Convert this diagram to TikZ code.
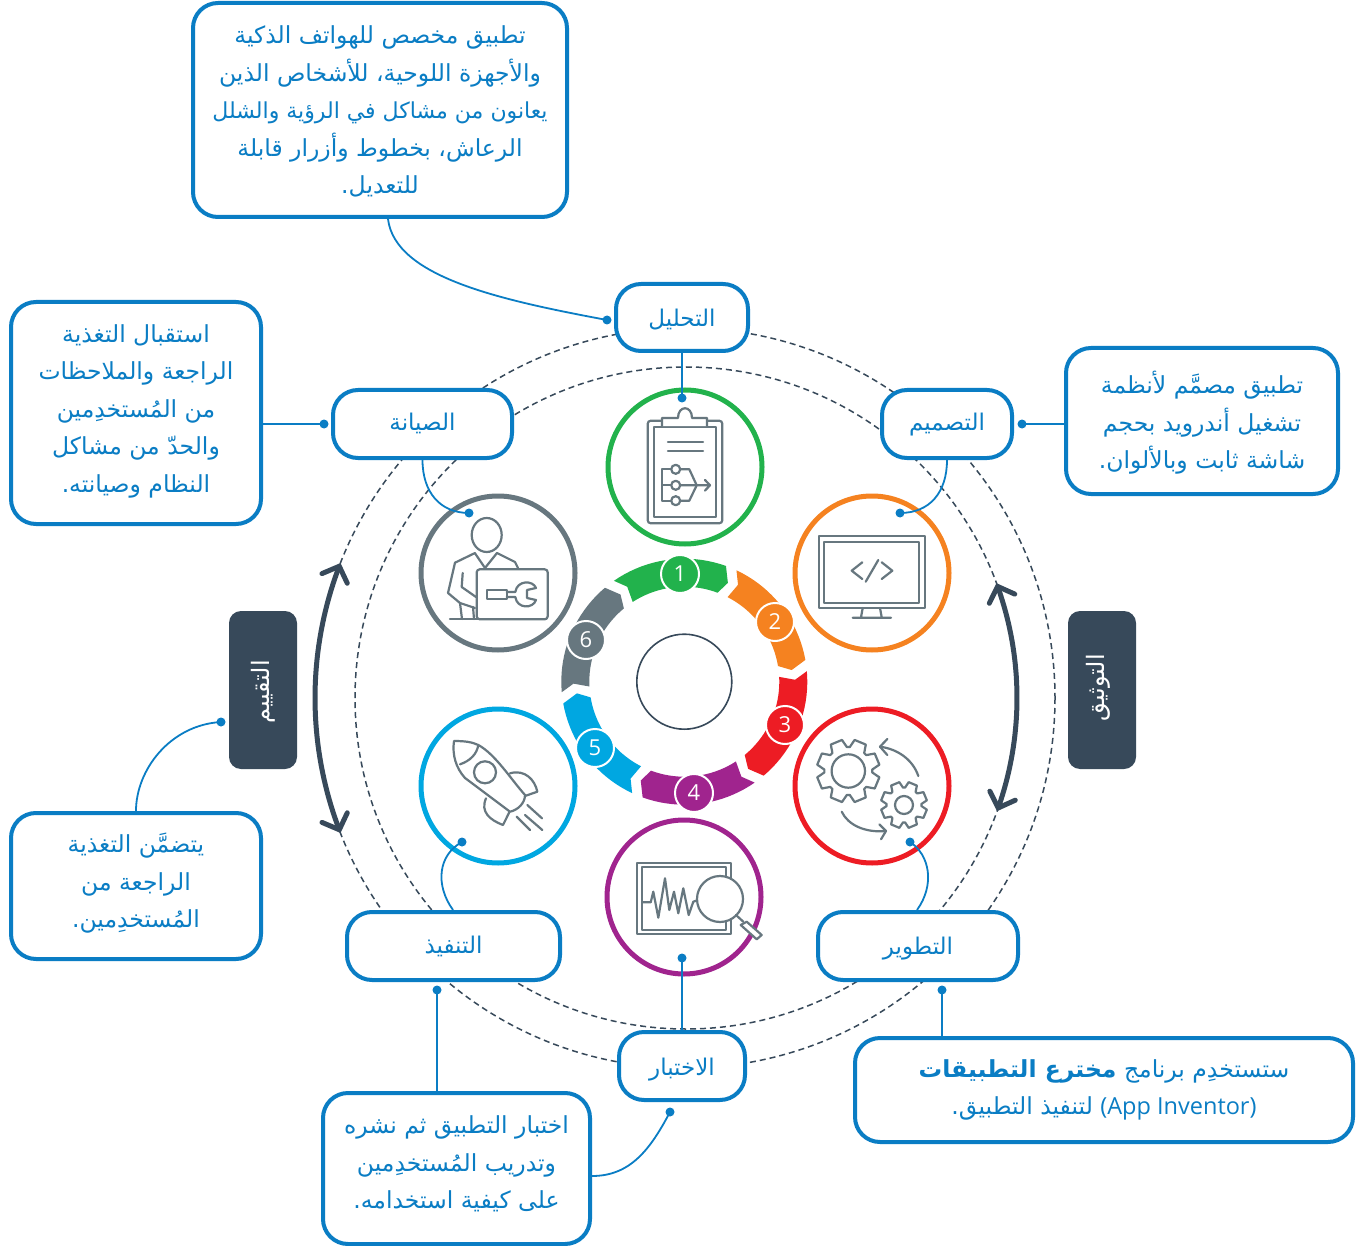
\documentclass[tikz,border=0pt]{standalone}
\usepackage{fontspec}
\usetikzlibrary{arrows.meta,calc}
\TeXXeTstate=1
\newfontfamily\arfont[Script=Arabic]{DejaVu Sans}
\newfontfamily\latfont{Open Sans}
\setmainfont{Open Sans}
\def\arraise{0pt}
\newcommand{\ar}[1]{\raisebox{\arraise}[0pt][0pt]{\beginR #1\endR}}
\newcommand{\arp}[1]{\beginR #1\endR}
\definecolor{cblue}{HTML}{0A7DC4}
\definecolor{cdark}{HTML}{37495A}
\definecolor{cgreen}{HTML}{22B24C}
\definecolor{corange}{HTML}{F58220}
\definecolor{cred}{HTML}{ED1C24}
\definecolor{cpurple}{HTML}{A0248E}
\definecolor{ccyan}{HTML}{00A7E1}
\definecolor{cgray}{HTML}{67777F}
\tikzset{
  lift/.style={execute at begin node={\def\arraise{#1pt}}},
  bluebox/.style={draw=cblue,line width=4pt,fill=white,rounded corners=25pt,inner sep=0pt,align=center,text=cblue,
    font=\arfont\fontsize{23.5}{37.5}\selectfont},
  labelbox/.style={bluebox,minimum height=68pt,lift=-8,font=\arfont\fontsize{23}{37.5}\selectfont},
  darkbox/.style={fill=cdark,rounded corners=12pt,minimum width=68pt,minimum height=158pt,inner sep=0pt},
  darktext/.style={text=white,rotate=90,inner sep=0pt,font=\arfont\fontsize{24}{26}\selectfont},
  ring/.style={circle,line width=5pt,minimum size=154pt,inner sep=0pt,fill=white},
  conn/.style={draw=cblue,line width=1.8pt},
  dotn/.style={circle,fill=cblue,minimum size=9pt,inner sep=0pt},
  dashring/.style={draw=cdark,line width=1.5pt,dash pattern=on 6pt off 4pt},
  thickarc/.style={draw=cdark,line width=5pt,line cap=round,{Straight Barb[length=13pt,width=27pt,line cap=round]}-{Straight Barb[length=13pt,width=27pt,line cap=round]}},
  badge/.style={circle,draw=white,line width=2pt,minimum size=38pt,inner sep=0pt,text=white,font=\latfont\fontsize{22}{24}\selectfont},
  ico/.style={draw=cgray,line width=2.2pt,line join=round,line cap=round},
}
\newcommand{\segm}[2]{% colour, offset
  \fill[#1] ({684.3+123*sin(-34.9+#2)},{681.7-123*cos(-34.9+#2)})
    -- ({684.3+110.8*sin(-31+#2)},{681.7-110.8*cos(-31+#2)})
    -- ({684.3+95*sin(-32.9+#2)},{681.7-95*cos(-32.9+#2)})
    -- plot[domain=-32.9:20.5,samples=20] ({684.3+95*sin(\x+#2)},{681.7-95*cos(\x+#2)})
    -- ({684.3+108*sin(23.8+#2)},{681.7-108*cos(23.8+#2)})
    -- plot[domain=19.8:-34.9,samples=20] ({684.3+123*sin(\x+#2)},{681.7-123*cos(\x+#2)})
    -- cycle;}
\newcommand{\geargray}[5]{% cx cy rootr outerr inner
  \draw[ico] ({#1+#3*cos(3.5)},{#2+#3*sin(3.5)}) \foreach \k in {0,45,...,315}{
     -- ({#1+#3*cos(\k+3.5)},{#2+#3*sin(\k+3.5)}) --
     ({#1+#4*cos(\k+11.5)},{#2+#4*sin(\k+11.5)}) --
     ({#1+#4*cos(\k+33.5)},{#2+#4*sin(\k+33.5)}) --
     ({#1+#3*cos(\k+41.5)},{#2+#3*sin(\k+41.5)}) } -- cycle;
  \draw[ico] (#1,#2) circle[radius=#5];}
\begin{document}
\begin{tikzpicture}[x=1pt,y=-1pt]
\useasboundingbox[fill=white] (0,0) rectangle (1360,1246);
% dashed rings
\draw[dashring] (685,698) circle[radius=370];
\draw[dashring] (686,698) circle[radius=331];
% thick double arrows
\draw[thickarc] plot[domain=158.6:201.4,samples=40] ({685+370*cos(\x)},{698+370*sin(\x)});
\draw[thickarc] plot[domain=-20.3:20,samples=40] ({686+331*cos(\x)},{698+331*sin(\x)});
% centre ring and segments
\node[circle,draw=cdark,line width=1.6pt,minimum size=95pt,inner sep=0pt] (hub) at (684.3,681.7) {};
\segm{cgreen}{0}
\segm{corange}{60}
\segm{cred}{120}
\segm{cpurple}{180}
\segm{ccyan}{240}
\segm{cgray}{300}
\node[badge,fill=cgreen] (b1) at (680,574) {1};
\node[badge,fill=corange] (b2) at (775,622) {2};
\node[badge,fill=cred] (b3) at (785,725) {3};
\node[badge,fill=cpurple] (b4) at (694,793) {4};
\node[badge,fill=ccyan] (b5) at (595,748) {5};
\node[badge,fill=cgray] (b6) at (586,640) {6};
% icon rings
\node[ring,draw=cgreen] (ic1) at (685,467) {};
\node[ring,draw=corange] (ic2) at (872,573) {};
\node[ring,draw=cred] (ic3) at (872,786) {};
\node[ring,draw=cpurple] (ic4) at (684,897) {};
\node[ring,draw=ccyan] (ic5) at (498,786) {};
\node[ring,draw=cgray] (ic6) at (498,573) {};
% clipboard
\draw[ico,rounded corners=3pt] (647.7,420.7) rectangle (722.3,523.3);
\draw[ico] (654,427) rectangle (716,517);
\draw[ico,fill=white] (662,426) -- (662,418) -- (678,418) .. controls (678,405) and (692,405) .. (692,418) -- (707,418) -- (707,426);
\draw[ico] (668,441.7) -- (703,441.7) (668,451) -- (703,451);
\draw[ico] (675.7,469.3) circle[radius=4.5] (675.7,485.3) circle[radius=4.5] (675.7,500.7) circle[radius=4.5];
\draw[ico] (671.2,469.3) -- (662.3,469.3) -- (662.3,500.7) -- (671.2,500.7) (662.3,485.3) -- (671.2,485.3);
\draw[ico] (680.2,469.3) -- (689.3,469.3) -- (696.7,485.3) -- (689.3,500.7) -- (680.2,500.7);
\draw[ico] (680.2,485.3) -- (710,485.3) (705,480) -- (710,485.3) -- (705,490.6);
% monitor
\draw[ico] (819,536) rectangle (925,608);
\draw[ico] (824.3,541.7) rectangle (919,602.7);
\draw[ico] (862.3,562.3) -- (851.7,570.7) -- (862.3,579);
\draw[ico] (878.3,560) -- (865.7,581.7);
\draw[ico] (881.7,562.3) -- (892.3,570.7) -- (881.7,579);
\draw[ico] (862.7,608) -- (861,617.3) (880,608) -- (881.7,617.3) (852.7,617.7) -- (891,617.7);
% gears
\geargray{848.3}{771}{24}{31.7}{16.7}
\geargray{904}{805}{17.5}{23.3}{9}
\draw[ico] (918.3,776) .. controls (913,760) and (898,749) .. (880,746.7);
\draw[ico] (887.3,739) -- (880,746.7) -- (887.3,755);
\draw[ico] (841.7,811.7) .. controls (848,825) and (865,833) .. (886,831);
\draw[ico] (879.3,824.3) -- (886,831) -- (881,839.3);
% rocket
\draw[ico] (454,741) .. controls (465,741) and (472,742) .. (478.3,745) .. controls (495,754) and (510,778) .. (525,795)
  .. controls (525,803) and (518,810) .. (510,811.7) -- (465,778) .. controls (456,768) and (452,755) .. (454,741) -- cycle;
\draw[ico] (478.3,745) .. controls (477,754) and (470,761) .. (460,764.3);
\draw[ico] (485,772.3) circle[radius=11];
\draw[ico] (510,773.3) .. controls (525,769) and (535,780) .. (537.3,791.7) -- (525,796);
\draw[ico] (486,798.3) .. controls (480,812) and (490,820) .. (503,825) -- (509.3,812.3);
\draw[ico] (527.3,805) -- (542,818.3) (525,815) -- (542.3,830) (516.7,816.7) -- (530,830);
% wave monitor
\draw[ico] (636.7,862.7) rectangle (731,934.3);
\draw[ico] (641.7,867.3) rectangle (725.7,930);
\draw[ico] (642.3,902.3) -- (650.7,902.3) -- (653.3,891.7) -- (658.3,917.7) -- (665,878.3) -- (669.3,910) -- (674,891.7) -- (678.3,913.3) -- (683.3,888.3) -- (688.7,915) -- (693.3,901.7) -- (698.3,900);
\draw[ico,fill=white] (720,899) circle[radius=23];
\draw[ico] (736,915) -- (743.3,921.7);
\draw[ico,fill=white] (746.7,921.7) -- (761.7,935) -- (756.7,939.3) -- (740.7,925) -- cycle;
% person
\draw[ico] (486.7,535) ellipse[x radius=15,y radius=17];
\draw[ico] (475,553.3) -- (485,568) -- (497,553);
\draw[ico] (475,553) -- (455,562.7) -- (448,593) -- (460,603) -- (475,608);
\draw[ico] (497,553) -- (515,562) -- (518,568);
\draw[ico] (462.7,573) -- (461.7,587) -- (476,597);
\draw[ico] (460,603) -- (462,619) (473,607) -- (474,619);
\draw[ico,rounded corners=3pt] (476.7,569.3) rectangle (547.7,619.3);
\draw[ico] (450,619.3) -- (546,619.3);
\draw[ico] (486.7,590) rectangle (506.7,599.3);
\draw[ico] (506.7,592) -- (515.3,592) .. controls (517,580) and (533,580) .. (536,588) -- (527,590) -- (527,598) -- (536,600) .. controls (533,609) and (517,609) .. (515.3,597) -- (506.7,597);
% boxes
\node[bluebox,lift=-9,minimum width=374pt,minimum height=214pt] (topT) at (380,110) {\ar{تطبيق مخصص للهواتف الذكية}\\\ar{والأجهزة اللوحية، للأشخاص الذين}\\\ar{\fontsize{22}{37.5}\selectfont يعانون من مشاكل في الرؤية والشلل}\\\ar{الرعاش، بخطوط وأزرار قابلة}\\\ar{للتعديل.}};
\node[bluebox,lift=-10,minimum width=272pt,minimum height=146pt] (designT) at (1202,421) {\ar{تطبيق مصمَّم لأنظمة}\\\ar{تشغيل أندرويد بحجم}\\\ar{شاشة ثابت وبالألوان.}};
\node[bluebox,lift=-4,minimum width=250pt,minimum height=222pt] (maintT) at (136,413) {\ar{استقبال التغذية}\\\ar{الراجعة والملاحظات}\\\ar{من المُستخدِمين}\\\ar{والحدّ من مشاكل}\\\ar{النظام وصيانته.}};
\node[bluebox,lift=-4,minimum width=250pt,minimum height=146pt] (evalT) at (136,886) {\ar{يتضمَّن التغذية}\\\ar{الراجعة من}\\\ar{المُستخدِمين.}};
\node[bluebox,lift=-6,minimum width=498pt,minimum height=104pt] (devT) at (1104,1090) {\ar{ستستخدِم برنامج \textbf{مخترع التطبيقات}}\\\ar{\beginL{\latfont (App Inventor)}\endL{} لتنفيذ التطبيق.}};
\node[bluebox,lift=-2.5,minimum width=267pt,minimum height=151pt] (implT) at (456.5,1168.5) {\ar{اختبار التطبيق ثم نشره}\\\ar{وتدريب المُستخدِمين}\\\ar{على كيفية استخدامه.}};
\node[labelbox,lift=-9.5,minimum width=132pt,minimum height=67pt] (analysis) at (682,317.5) {\ar{التحليل}};
\node[labelbox,lift=-7,minimum width=130pt] (design) at (947,424) {\ar{التصميم}};
\node[labelbox,lift=-7,minimum width=179pt] (maint) at (422.5,424) {\ar{الصيانة}};
\node[labelbox,minimum width=200pt] (dev) at (918,946) {\ar{التطوير}};
\node[labelbox,lift=-7,minimum width=213pt] (impl) at (453.5,946) {\ar{التنفيذ}};
\node[labelbox,lift=-9,minimum width=126pt] (test) at (682,1066) {\ar{الاختبار}};
\node[darkbox] (evalD) at (263,690) {};
\node[darktext] (evalL) at (263,692) {\arp{التقييم}};
\node[darkbox] (docD) at (1102,690) {};
\node[darktext] (docL) at (1098,688) {\arp{التوثيق}};
% dots
\node[dotn] (d1) at (607,320) {};
\node[dotn] (d2) at (682,398) {};
\node[dotn] (d3) at (324,424) {};
\node[dotn] (d4) at (1022,424) {};
\node[dotn] (d5) at (900,513) {};
\node[dotn] (d6) at (469,513) {};
\node[dotn] (d7) at (910,842) {};
\node[dotn] (d8) at (462,842) {};
\node[dotn] (d9) at (682,958) {};
\node[dotn] (d10) at (942,990) {};
\node[dotn] (d11) at (437,990) {};
\node[dotn] (d12) at (670,1112) {};
\node[dotn] (d13) at (221,722) {};
% connectors
\draw[conn] ([xshift=8pt]topT.south) .. controls +(7,58) and (500,300) .. (d1.center);
\draw[conn] (analysis.south) -- (d2.center);
\draw[conn] (maintT.east |- d3) -- (d3.center);
\draw[conn] (designT.west |- d4) -- (d4.center);
\draw[conn] (design.south) .. controls +(0,32) and (930,513) .. (d5.center);
\draw[conn] (maint.south) .. controls +(0,32) and (440,513) .. (d6.center);
\draw[conn] ([xshift=-1pt]dev.north) .. controls (935,885) and (930,855) .. (d7.center);
\draw[conn] ([xshift=-.5pt]impl.north) .. controls (435,885) and (438,855) .. (d8.center);
\draw[conn] (test.north) -- (d9.center);
\draw[conn] (devT.north -| d10) -- (d10.center);
\draw[conn] (implT.north -| d11) -- (d11.center);
\draw[conn] ([yshift=-7.5pt]implT.east) .. controls (630,1176) and (650,1150) .. (d12.center);
\draw[conn] (evalT.north) .. controls (136,770) and (170,725) .. (d13.center);
\end{tikzpicture}
\end{document}
